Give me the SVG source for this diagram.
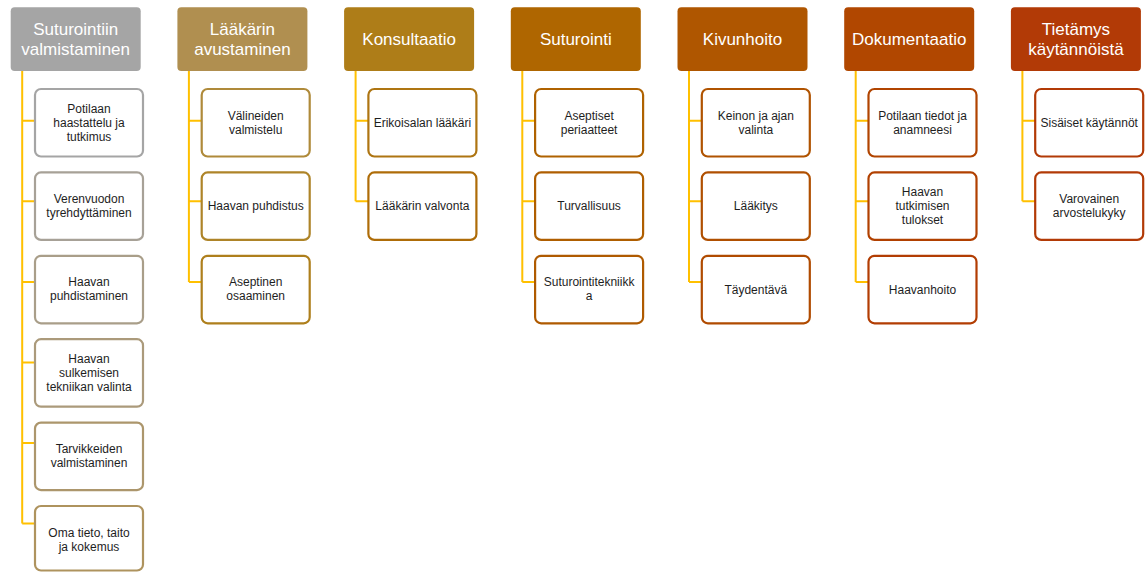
<svg xmlns="http://www.w3.org/2000/svg" width="1148" height="572" viewBox="0 0 1148 572">
<style>
.hdr{stroke:none}
.ht{font-family:"Liberation Sans",Arial,sans-serif;font-size:17px;fill:#ffffff;text-anchor:middle}
.box{fill:#ffffff;stroke-width:2.2}
.bt{font-family:"Liberation Sans",Arial,sans-serif;font-size:12px;fill:#1e1e1e;text-anchor:middle}
.con{fill:none;stroke:#FFC000;stroke-width:2}
</style>
<rect width="1148" height="572" fill="#ffffff"/>
<g id="connectors">
<path class="con" d="M22.2,71 V523.5 M22.2,120.7 H35 M22.2,201.3 H35 M22.2,282 H35 M22.2,362.5 H35 M22.2,443 H35 M22.2,523.5 H35"/>
<path class="con" d="M188.9,71 V282 M188.9,120.7 H201.7 M188.9,201.3 H201.7 M188.9,282 H201.7"/>
<path class="con" d="M355.6,71 V201.3 M355.6,120.7 H368.4 M355.6,201.3 H368.4"/>
<path class="con" d="M522.3,71 V282 M522.3,120.7 H535.1 M522.3,201.3 H535.1 M522.3,282 H535.1"/>
<path class="con" d="M689,71 V282 M689,120.7 H701.8 M689,201.3 H701.8 M689,282 H701.8"/>
<path class="con" d="M855.7,71 V282 M855.7,120.7 H868.5 M855.7,201.3 H868.5 M855.7,282 H868.5"/>
<path class="con" d="M1022.4,71 V201.3 M1022.4,120.7 H1035.2 M1022.4,201.3 H1035.2"/>
</g>
<g id="h0"><rect class="hdr" x="10.7" y="7.3" width="130" height="63.7" rx="4" fill="#A5A5A5"/><text class="ht" x="75.7" y="35">Suturointiin</text><text class="ht" x="75.7" y="55">valmistaminen</text></g>
<g id="h1"><rect class="hdr" x="177.4" y="7.3" width="130" height="63.7" rx="4" fill="#B08F50"/><text class="ht" x="242.4" y="35">Lääkärin</text><text class="ht" x="242.4" y="55">avustaminen</text></g>
<g id="h2"><rect class="hdr" x="344.1" y="7.3" width="130" height="63.7" rx="4" fill="#AE7D18"/><text class="ht" x="409.1" y="45">Konsultaatio</text></g>
<g id="h3"><rect class="hdr" x="510.8" y="7.3" width="130" height="63.7" rx="4" fill="#AF6600"/><text class="ht" x="575.8" y="45">Suturointi</text></g>
<g id="h4"><rect class="hdr" x="677.5" y="7.3" width="130" height="63.7" rx="4" fill="#AF5600"/><text class="ht" x="742.5" y="45">Kivunhoito</text></g>
<g id="h5"><rect class="hdr" x="844.2" y="7.3" width="130" height="63.7" rx="4" fill="#B14700"/><text class="ht" x="909.2" y="45">Dokumentaatio</text></g>
<g id="h6"><rect class="hdr" x="1010.9" y="7.3" width="130" height="63.7" rx="4" fill="#B23A06"/><text class="ht" x="1075.9" y="35">Tietämys</text><text class="ht" x="1075.9" y="55">käytännöistä</text></g>

<g id="c0a"><rect class="box" x="35" y="89" width="108" height="67.5" rx="6" stroke="#A5A5A5"/><text class="bt" x="89" y="112.5">Potilaan</text><text class="bt" x="89" y="126.7">haastattelu ja</text><text class="bt" x="89" y="140.9">tutkimus</text></g>
<g id="c0b"><rect class="box" x="35" y="172.4" width="108" height="67.5" rx="6" stroke="#A7A197"/><text class="bt" x="89" y="203">Verenvuodon</text><text class="bt" x="89" y="217">tyrehdyttäminen</text></g>
<g id="c0c"><rect class="box" x="35" y="255.8" width="108" height="67.5" rx="6" stroke="#A99E89"/><text class="bt" x="89" y="286.4">Haavan</text><text class="bt" x="89" y="300.4">puhdistaminen</text></g>
<g id="c0d"><rect class="box" x="35" y="339.2" width="108" height="67.5" rx="6" stroke="#AB9A7B"/><text class="bt" x="89" y="362.7">Haavan</text><text class="bt" x="89" y="376.9">sulkemisen</text><text class="bt" x="89" y="391.1">tekniikan valinta</text></g>
<g id="c0e"><rect class="box" x="35" y="422.6" width="108" height="67.5" rx="6" stroke="#AC966C"/><text class="bt" x="89" y="453.2">Tarvikkeiden</text><text class="bt" x="89" y="467.2">valmistaminen</text></g>
<g id="c0f"><rect class="box" x="35" y="506" width="108" height="64.5" rx="6" stroke="#AE935E"/><text class="bt" x="89" y="536.6">Oma tieto, taito</text><text class="bt" x="89" y="550.6">ja kokemus</text></g>

<g id="c1a"><rect class="box" x="201.7" y="89" width="108" height="67.5" rx="6" stroke="#AF8A3A"/><text class="bt" x="255.7" y="119.6">Välineiden</text><text class="bt" x="255.7" y="133.6">valmistelu</text></g>
<g id="c1b"><rect class="box" x="201.7" y="172.4" width="108" height="67.5" rx="6" stroke="#AE8428"/><text class="bt" x="255.7" y="210.2">Haavan puhdistus</text></g>
<g id="c1c"><rect class="box" x="201.7" y="255.8" width="108" height="67.5" rx="6" stroke="#AE7F1C"/><text class="bt" x="255.7" y="286.4">Aseptinen</text><text class="bt" x="255.7" y="300.4">osaaminen</text></g>

<g id="c2a"><rect class="box" x="368.4" y="89" width="108" height="67.5" rx="6" stroke="#AE7512"/><text class="bt" x="422.4" y="126.8">Erikoisalan lääkäri</text></g>
<g id="c2b"><rect class="box" x="368.4" y="172.4" width="108" height="67.5" rx="6" stroke="#AE6C08"/><text class="bt" x="422.4" y="210.2">Lääkärin valvonta</text></g>

<g id="c3a"><rect class="box" x="535.1" y="89" width="108" height="67.5" rx="6" stroke="#AF6200"/><text class="bt" x="589.1" y="119.6">Aseptiset</text><text class="bt" x="589.1" y="133.6">periaatteet</text></g>
<g id="c3b"><rect class="box" x="535.1" y="172.4" width="108" height="67.5" rx="6" stroke="#AF5E00"/><text class="bt" x="589.1" y="210.2">Turvallisuus</text></g>
<g id="c3c"><rect class="box" x="535.1" y="255.8" width="108" height="67.5" rx="6" stroke="#AF5A00"/><text class="bt" x="589.1" y="286.4">Suturointitekniikk</text><text class="bt" x="589.1" y="300.4">a</text></g>

<g id="c4a"><rect class="box" x="701.8" y="89" width="108" height="67.5" rx="6" stroke="#B05300"/><text class="bt" x="755.8" y="119.6">Keinon ja ajan</text><text class="bt" x="755.8" y="133.6">valinta</text></g>
<g id="c4b"><rect class="box" x="701.8" y="172.4" width="108" height="67.5" rx="6" stroke="#B04F00"/><text class="bt" x="755.8" y="210.2">Lääkitys</text></g>
<g id="c4c"><rect class="box" x="701.8" y="255.8" width="108" height="67.5" rx="6" stroke="#B04B00"/><text class="bt" x="755.8" y="293.6">Täydentävä</text></g>

<g id="c5a"><rect class="box" x="868.5" y="89" width="108" height="67.5" rx="6" stroke="#B14400"/><text class="bt" x="922.5" y="119.6">Potilaan tiedot ja</text><text class="bt" x="922.5" y="133.6">anamneesi</text></g>
<g id="c5b"><rect class="box" x="868.5" y="172.4" width="108" height="67.5" rx="6" stroke="#B14000"/><text class="bt" x="922.5" y="195.9">Haavan</text><text class="bt" x="922.5" y="210.1">tutkimisen</text><text class="bt" x="922.5" y="224.3">tulokset</text></g>
<g id="c5c"><rect class="box" x="868.5" y="255.8" width="108" height="67.5" rx="6" stroke="#B23D03"/><text class="bt" x="922.5" y="293.6">Haavanhoito</text></g>

<g id="c6a"><rect class="box" x="1035.2" y="89" width="108" height="67.5" rx="6" stroke="#B23A06"/><text class="bt" x="1089.2" y="126.8">Sisäiset käytännöt</text></g>
<g id="c6b"><rect class="box" x="1035.2" y="172.4" width="108" height="67.5" rx="6" stroke="#B23A06"/><text class="bt" x="1089.2" y="203">Varovainen</text><text class="bt" x="1089.2" y="217">arvostelukyky</text></g>
</svg>
